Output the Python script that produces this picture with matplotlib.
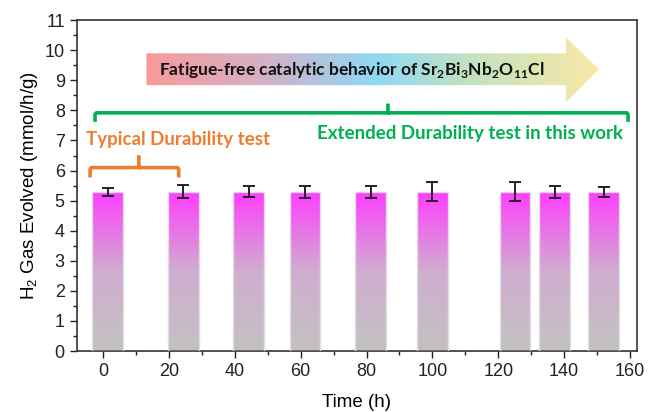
import numpy as np
import matplotlib
matplotlib.use("Agg")
import matplotlib.pyplot as plt
from matplotlib.colors import LinearSegmentedColormap
from matplotlib.patches import Polygon
from matplotlib.path import Path
from matplotlib.patches import PathPatch

plt.rcParams['font.family'] = ['Liberation Sans', 'DejaVu Sans']
plt.rcParams['mathtext.fontset'] = 'custom'
plt.rcParams['mathtext.rm'] = 'Liberation Sans'
plt.rcParams['mathtext.bf'] = 'Lato:bold'

# durability runs: time of each run (h), H2 rate and error
time_h = [1.4, 24.4, 44.2, 61.3, 81.3, 100.0, 125.1, 137.1, 152.0]
h2_rate = [5.3, 5.3, 5.3, 5.3, 5.3, 5.3, 5.3, 5.3, 5.3]
h2_err = [0.13, 0.22, 0.18, 0.2, 0.2, 0.32, 0.32, 0.2, 0.17]
bar_width = 9.3

xticks = [0, 20, 40, 60, 80, 100, 120, 140, 160]
yticks = list(range(0, 12))

orange = '#ED7D31'
green = '#00B050'

fig = plt.figure(figsize=(6.49, 4.12), dpi=100)
ax = fig.add_axes([0.118, 0.148, 0.863, 0.803])
ax.set_xlim(-8, 162)
ax.set_ylim(0, 11)

# bars with a vertical grey -> magenta fill
bar_cmap = LinearSegmentedColormap.from_list('bar', ['#C2C2C2', '#D0AED0', '#FF3CFF'])
grad = np.linspace(0, 1, 256).reshape(-1, 1)
bars = ax.bar(time_h, h2_rate, width=bar_width, facecolor='none',
              edgecolor='#E4DCE4', linewidth=1.0, zorder=3)
for b in bars:
    x0, w, h = b.get_x(), b.get_width(), b.get_height()
    im = ax.imshow(grad, cmap=bar_cmap, aspect='auto', origin='lower',
                   extent=[x0, x0 + w, 0, h], zorder=2)
    im.set_clip_path(b)
ax.errorbar(time_h, h2_rate, yerr=h2_err, fmt='none', ecolor='#222222',
            elinewidth=1.4, capsize=4, capthick=1.4, zorder=4)

# gradient arrow
ax_x = [13.2, 140.5, 140.5, 150.6, 140.5, 140.5, 13.2]
ax_y = [9.90, 9.90, 10.43, 9.37, 8.27, 8.84, 8.84]
arrow = Polygon(np.column_stack([ax_x, ax_y]), closed=True, facecolor='none',
                edgecolor='none', zorder=2)
ax.add_patch(arrow)
arrow_cmap = LinearSegmentedColormap.from_list(
    'arr', [(0, '#F99A9A'), (0.25, '#D5B0C4'), (0.5, '#8ED8F6'),
            (0.72, '#C4E2C0'), (1, '#FAE8A6')])
im = ax.imshow(np.linspace(0, 1, 256).reshape(1, -1), cmap=arrow_cmap,
               aspect='auto', extent=[13.2, 150.6, 8.27, 10.43], zorder=2)
im.set_clip_path(arrow)
ax.text(75.5, 9.33,
        r'Fatigue-free catalytic behavior of Sr$_\mathbf{2}$Bi$_\mathbf{3}$Nb$_\mathbf{2}$O$_\mathbf{11}$Cl',
        family='Lato', weight='bold', fontsize=12.5, ha='center', va='center',
        color='#111111', zorder=5)


def bracket(x1, x2, xm, y, drop, rise, color):
    r = 0.6
    verts = [(x1, y - drop), (x1, y - 0.08), (x1, y), (x1 + r, y),
             (xm, y), (xm, y + rise), (xm, y),
             (x2 - r, y), (x2, y), (x2, y - 0.08), (x2, y - drop)]
    codes = [Path.MOVETO, Path.LINETO, Path.CURVE3, Path.CURVE3,
             Path.LINETO, Path.LINETO, Path.MOVETO,
             Path.LINETO, Path.CURVE3, Path.CURVE3, Path.LINETO]
    ax.add_patch(PathPatch(Path(verts, codes), facecolor='none',
                           edgecolor=color, linewidth=2.6, zorder=5,
                           capstyle='butt'))


bracket(-2.4, 159.4, 86.5, 7.92, 0.3, 0.31, green)
ax.text(111.5, 7.22, 'Extended Durability test in this work', family='Lato',
        weight='bold', fontsize=13.5, color=green, ha='center', va='center')

bracket(-3.9, 23.0, 10.9, 6.10, 0.33, 0.41, orange)
ax.text(22.8, 7.03, 'Typical Durability test', family='Lato',
        weight='bold', fontsize=13.5, color=orange, ha='center', va='center')

ax.set_xticks(xticks)
ax.set_yticks(yticks)
ax.set_xticks(np.arange(10, 161, 20), minor=True)
ax.set_yticks(np.arange(0.5, 11, 1), minor=True)
ax.tick_params(which='major', length=5, width=1.0, labelsize=13, colors='#222222')
ax.tick_params(which='minor', length=3, width=1.0, colors='#222222')
for s in ax.spines.values():
    s.set_linewidth(1.2)
    s.set_color('#333333')

ax.set_xlabel('Time (h)', fontsize=13.5, labelpad=10)
ax.set_ylabel('H$_2$ Gas Evolved (mmol/h/g)', fontsize=13.5, labelpad=3)

fig.savefig('out.png', dpi=100)
